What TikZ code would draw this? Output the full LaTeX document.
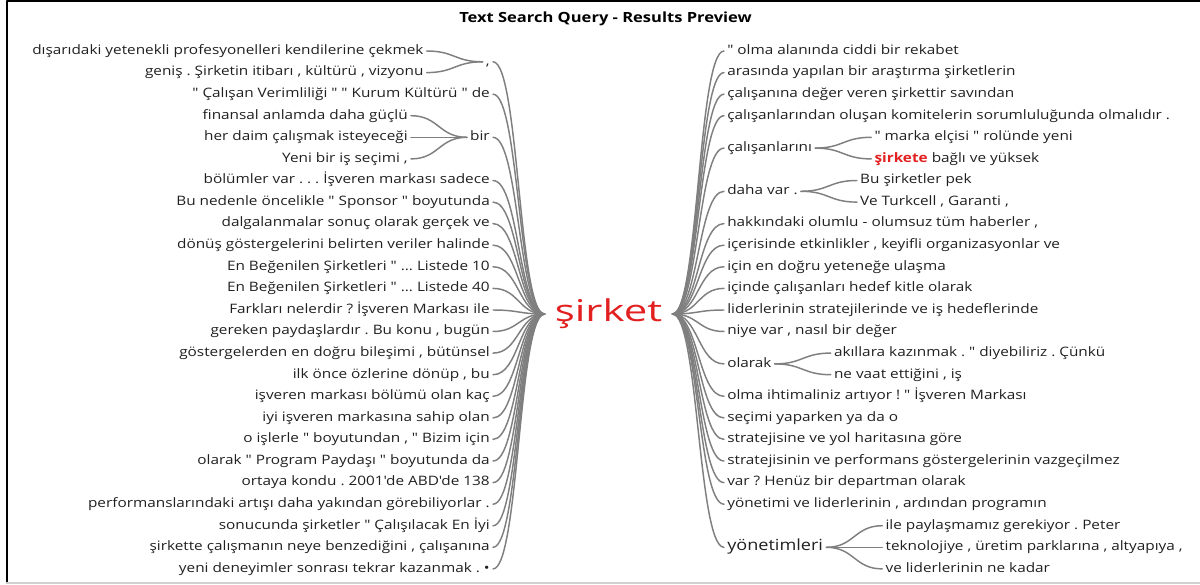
\documentclass[tikz,border=0pt]{standalone}
\usepackage{fontspec}
\setmainfont{Open Sans}
\newfontfamily\treefont[FakeStretch=1.18]{Open Sans}
\newfontfamily\hubfont[FakeStretch=1.4]{Open Sans}
\usetikzlibrary{positioning}
\frenchspacing
\definecolor{xfxfxf}{rgb}{0.4980392156862745,0.4980392156862745,0.4980392156862745}
\definecolor{sqsqsq}{rgb}{0.12549019607843137,0.12549019607843137,0.12549019607843137}
\definecolor{etsqsq}{rgb}{0.8901960784313725,0.12549019607843137,0.12549019607843137}
\definecolor{dqdqdq}{rgb}{0.8156862745098039,0.8156862745098039,0.8156862745098039}
\begin{document}
\begin{tikzpicture}[line cap=round,line join=round,x=0.75pt,y=-0.75pt,
  word/.style={inner xsep=2.25pt,inner ysep=0pt,text=sqsqsq,text height=7pt,text depth=2pt,
    font=\treefont\frenchspacing\fontsize{9.75pt}{11pt}\selectfont},
  wordl/.style={word,anchor=east},
  wordr/.style={word,anchor=west},
  hub/.style={inner xsep=7.5pt,inner ysep=0pt,text=etsqsq,font=\hubfont\fontsize{22.5pt}{26pt}\selectfont},
  branch/.style={draw=xfxfxf,line width=1.1pt}]
\useasboundingbox (0,0) rectangle (1200,585);
\draw[black,line width=1.5pt] (6.5,583) -- (6.5,1.5) -- (1200,1.5);
\draw[dqdqdq,line width=1.5pt] (6.5,582.5) -- (1200,582.5);
\node[font=\treefont\bfseries\fontsize{10.5pt}{12pt}\selectfont,text=black] (title) at (605.5,18.5) {Text Search Query - Results Preview};
\node[hub] (hub) at (608.5,314) {şirket};
% left side
\node[wordl] (L1) at (493,61.8) {,};
\node[wordl] (L2) at (493,94.2) {" Çalışan Verimliliği " " Kurum Kültürü " de};
\node[wordl] (L3) at (493,137.3) {bir};
\node[wordl] (L4) at (493,180.5) {bölümler var . . . İşveren markası sadece};
\node[wordl] (L5) at (493,202.1) {Bu nedenle öncelikle " Sponsor " boyutunda};
\node[wordl] (L6) at (493,223.6) {dalgalanmalar sonuç olarak gerçek ve};
\node[wordl] (L7) at (493,245.2) {dönüş göstergelerini belirten veriler halinde};
\node[wordl] (L8) at (493,266.8) {En Beğenilen Şirketleri " ... Listede 10};
\node[wordl] (L9) at (493,288.4) {En Beğenilen Şirketleri " ... Listede 40};
\node[wordl] (L10) at (493,310.0) {Farkları nelerdir ? İşveren Markası ile};
\node[wordl] (L11) at (493,331.5) {gereken paydaşlardır . Bu konu , bugün};
\node[wordl] (L12) at (493,353.1) {göstergelerden en doğru bileşimi , bütünsel};
\node[wordl] (L13) at (493,374.7) {ilk önce özlerine dönüp , bu};
\node[wordl] (L14) at (493,396.3) {işveren markası bölümü olan kaç};
\node[wordl] (L15) at (493,417.9) {iyi işveren markasına sahip olan};
\node[wordl] (L16) at (493,439.4) {o işlerle " boyutundan , " Bizim için};
\node[wordl] (L17) at (493,461.0) {olarak " Program Paydaşı " boyutunda da};
\node[wordl] (L18) at (493,482.6) {ortaya kondu . 2001'de ABD'de 138};
\node[wordl] (L19) at (493,504.2) {performanslarındaki artışı daha yakından görebiliyorlar .};
\node[wordl] (L20) at (493,525.8) {sonucunda şirketler " Çalışılacak En İyi};
\node[wordl] (L21) at (493,547.3) {şirkette çalışmanın neye benzediğini , çalışanına};
\node[wordl] (L22) at (493,568.9) {yeni deneyimler sonrası tekrar kazanmak . •};
\node[wordl,left=42pt of L1,yshift=8.1pt] (L1a) {dışarıdaki yetenekli profesyonelleri kendilerine çekmek};
\node[wordl,left=42pt of L1,yshift=-8.1pt] (L1b) {geniş . Şirketin itibarı , kültürü , vizyonu};
\node[wordl,left=42pt of L3,yshift=16.2pt] (L3a) {finansal anlamda daha güçlü};
\node[wordl,left=42pt of L3] (L3b) {her daim çalışmak isteyeceği};
\node[wordl,left=42pt of L3,yshift=-16.2pt] (L3c) {Yeni bir iş seçimi ,};
% right side
\node[wordr] (R1) at (724,51.0) {" olma alanında ciddi bir rekabet};
\node[wordr] (R2) at (724,72.6) {arasında yapılan bir araştırma şirketlerin};
\node[wordr] (R3) at (724,94.2) {çalışanına değer veren şirkettir savından};
\node[wordr] (R4) at (724,115.7) {çalışanlarından oluşan komitelerin sorumluluğunda olmalıdır .};
\node[wordr] (R5) at (724,148.1) {çalışanlarını};
\node[wordr] (R6) at (724,191.3) {daha var .};
\node[wordr] (R7) at (724,223.6) {hakkındaki olumlu - olumsuz tüm haberler ,};
\node[wordr] (R8) at (724,245.2) {içerisinde etkinlikler , keyifli organizasyonlar ve};
\node[wordr] (R9) at (724,266.8) {için en doğru yeteneğe ulaşma};
\node[wordr] (R10) at (724,288.4) {içinde çalışanları hedef kitle olarak};
\node[wordr] (R11) at (724,310.0) {liderlerinin stratejilerinde ve iş hedeflerinde};
\node[wordr] (R12) at (724,331.5) {niye var , nasıl bir değer};
\node[wordr] (R13) at (724,363.9) {olarak};
\node[wordr] (R14) at (724,396.3) {olma ihtimaliniz artıyor ! " İşveren Markası};
\node[wordr] (R15) at (724,417.9) {seçimi yaparken ya da o};
\node[wordr] (R16) at (724,439.4) {stratejisine ve yol haritasına göre};
\node[wordr] (R17) at (724,461.0) {stratejisinin ve performans göstergelerinin vazgeçilmez};
\node[wordr] (R18) at (724,482.6) {var ? Henüz bir departman olarak};
\node[wordr] (R19) at (724,504.2) {yönetimi ve liderlerinin , ardından programın};
\node[wordr,font=\treefont\fontsize{11.5pt}{13pt}\selectfont] (R20) at (724,547.3) {yönetimleri};
\node[wordr,right=42pt of R5,yshift=8.1pt] (R5a) {" marka elçisi " rolünde yeni};
\node[wordr,right=42pt of R5,yshift=-8.1pt] (R5b) {{\bfseries\color{etsqsq}şirkete} bağlı ve yüksek};
\node[wordr,right=42pt of R6,yshift=8.1pt] (R6a) {Bu şirketler pek};
\node[wordr,right=42pt of R6,yshift=-8.1pt] (R6b) {Ve Turkcell , Garanti ,};
\node[wordr,right=42pt of R13,yshift=8.1pt] (R13a) {akıllara kazınmak . " diyebiliriz . Çünkü};
\node[wordr,right=42pt of R13,yshift=-8.1pt] (R13b) {ne vaat ettiğini , iş};
\node[wordr,right=42pt of R20,yshift=16.2pt] (R20a) {ile paylaşmamız gerekiyor . Peter};
\node[wordr,right=42pt of R20] (R20b) {teknolojiye , üretim parklarına , altyapıya ,};
\node[wordr,right=42pt of R20,yshift=-16.2pt] (R20c) {ve liderlerinin ne kadar};
% branches
\foreach \i in {1,...,22}
  \draw[branch] (L\i.east) .. controls +(26,0) and +(-26,0) .. (hub.west);
\foreach \i in {1,...,20}
  \draw[branch] (hub.east) .. controls +(26,0) and +(-26,0) .. (R\i.west);
\foreach \p/\c in {L1/L1a,L1/L1b,L3/L3a,L3/L3b,L3/L3c}
  \draw[branch] (\c.east) .. controls +(28,0) and +(-28,0) .. (\p.west);
\foreach \p/\c in {R5/R5a,R5/R5b,R6/R6a,R6/R6b,R13/R13a,R13/R13b,R20/R20a,R20/R20b,R20/R20c}
  \draw[branch] (\p.east) .. controls +(28,0) and +(-28,0) .. (\c.west);
\end{tikzpicture}
\end{document}
